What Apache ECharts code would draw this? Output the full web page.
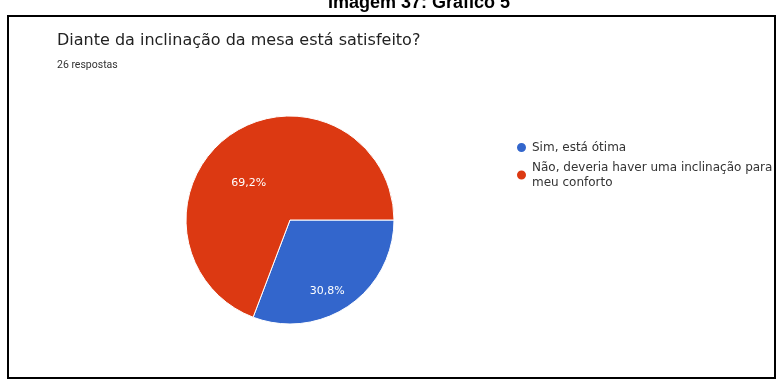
<!DOCTYPE html>
<html>
<head>
<meta charset="utf-8">
<script src="https://cdn.jsdelivr.net/npm/echarts@6/dist/echarts.min.js"></script>
<style>
  html, body { margin: 0; padding: 0; background: #ffffff; }
  #chart { width: 779px; height: 381px; }
</style>
</head>
<body>
<div id="chart"></div>
<script>
// Survey answers: "Diante da inclinação da mesa está satisfeito?" (26 respostas)
const categories = [
  'Sim, está ótima',
  'Não, deveria haver uma inclinação para\nmeu conforto'
];
const responses = [8, 18];
const sliceColors = ['#3366cc', '#dc3912'];
const totalResponses = responses.reduce((a, b) => a + b, 0);

// small nudges for the in-slice percentage labels
const labelNudge = [[6, 26], [-10, 8]];

const chart = echarts.init(document.getElementById('chart'), null, { renderer: 'canvas' });

chart.setOption({
  backgroundColor: '#ffffff',
  animation: false,
  title: [
    {
      text: 'Imagem 37: Gráfico 5',
      left: 323,
      top: -11,
      textStyle: { fontFamily: 'Liberation Sans', fontWeight: 'bold', fontSize: 18, color: '#000' }
    },
    {
      text: 'Diante da inclinação da mesa está satisfeito?',
      left: 52,
      top: 28,
      textStyle: { fontFamily: 'DejaVu Sans', fontWeight: 'normal', fontSize: 16, color: '#222' },
      subtext: totalResponses + ' respostas',
      itemGap: 11,
      subtextStyle: { fontFamily: 'Roboto', fontSize: 10.5, color: '#333' }
    }
  ],
  graphic: [
    {
      type: 'rect',
      z: 100,
      shape: { x: 8, y: 16, width: 767, height: 362 },
      style: { fill: 'none', stroke: '#000', lineWidth: 2 }
    }
  ],
  legend: {
    orient: 'vertical',
    left: 510,
    top: 135,
    icon: 'circle',
    itemWidth: 11,
    itemHeight: 11,
    itemGap: 5,
    textStyle: { fontFamily: 'DejaVu Sans', fontSize: 12, color: '#333', lineHeight: 15 },
    data: categories
  },
  color: sliceColors,
  series: [
    {
      type: 'pie',
      center: [290, 220],
      radius: 104,
      startAngle: 0,
      clockwise: true,
      silent: true,
      itemStyle: { borderColor: '#ffffff', borderWidth: 1 },
      label: {
        position: 'inside',
        color: '#ffffff',
        fontFamily: 'DejaVu Sans',
        fontSize: 11,
        formatter: p => p.percent.toFixed(1).replace('.', ',') + '%'
      },
      labelLayout: p => ({ dx: labelNudge[p.dataIndex][0], dy: labelNudge[p.dataIndex][1] }),
      labelLine: { show: false },
      data: categories.map((name, i) => ({ name, value: responses[i] }))
    }
  ]
});
</script>
</body>
</html>
